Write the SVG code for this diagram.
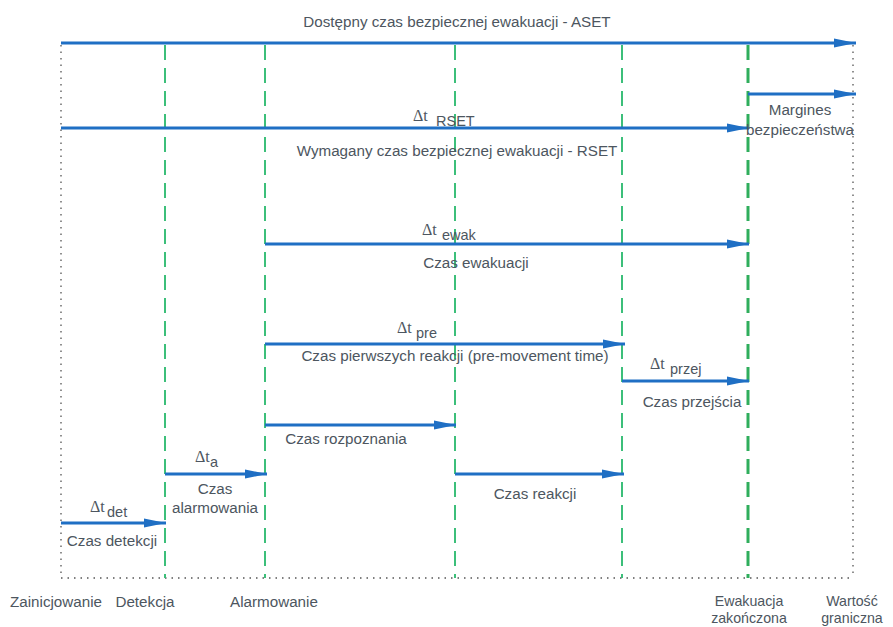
<svg xmlns="http://www.w3.org/2000/svg" width="893" height="627" viewBox="0 0 893 627">
<style>
.t{font-family:"Liberation Sans",Arial,sans-serif;font-size:15.2px;fill:#4d5660}
.b{font-family:"Liberation Sans",Arial,sans-serif;font-size:14.2px;fill:#4d5660}
.d{font-family:"Liberation Serif","Times New Roman",serif;font-size:16px;fill:#4d5660}
.s{font-family:"Liberation Sans",Arial,sans-serif;font-size:14.5px;fill:#4d5660}
.dot{stroke:#555;stroke-width:1.3;stroke-dasharray:1.5 5;fill:none}
.g{stroke:#3cbf7a;stroke-width:2;stroke-dasharray:15 8;fill:none}
.g2{stroke:#2fae5c;stroke-width:3;stroke-dasharray:15 8;fill:none}
.a{stroke:#1f6fc4;stroke-width:3;fill:none;marker-end:url(#ah)}
</style>
<defs>
<marker id="ah" markerUnits="userSpaceOnUse" markerWidth="24" markerHeight="12" refX="22" refY="6" orient="auto">
<path d="M0,1.5 L22,6 L0,10.5 Z" fill="#1f6fc4"/>
</marker>
</defs>
<rect width="893" height="627" fill="#fff"/>
<g id="frame">
<line class="dot" x1="61" y1="45" x2="61" y2="578"/>
<line class="dot" x1="853" y1="45" x2="853" y2="578"/>
<line class="dot" x1="61" y1="578" x2="853" y2="578"/>
</g>
<g id="milestones">
<line class="g" x1="165" y1="45" x2="165" y2="578"/>
<line class="g" x1="265" y1="45" x2="265" y2="578"/>
<line class="g" x1="455" y1="45" x2="455" y2="578"/>
<line class="g" x1="622" y1="45" x2="622" y2="578"/>
<line class="g2" x1="748" y1="45" x2="748" y2="578"/>
</g>
<g id="connectors">
<line class="a" x1="61" y1="43" x2="856" y2="43"/>
<line class="a" x1="748" y1="94" x2="856" y2="94"/>
<line class="a" x1="61" y1="128" x2="749" y2="128"/>
<line class="a" x1="265" y1="244" x2="749" y2="244"/>
<line class="a" x1="265" y1="344" x2="625" y2="344"/>
<line class="a" x1="622" y1="381" x2="749" y2="381"/>
<line class="a" x1="265" y1="425" x2="456" y2="425"/>
<line class="a" x1="455" y1="474" x2="624" y2="474"/>
<line class="a" x1="165" y1="474" x2="267" y2="474"/>
<line class="a" x1="61" y1="523" x2="166" y2="523"/>
</g>
<g id="aset"><text class="t" x="457" y="27" text-anchor="middle">Dostępny czas bezpiecznej ewakuacji - ASET</text></g>
<g id="margines">
<text class="t" x="800" y="115" text-anchor="middle">Margines</text>
<text class="t" x="800" y="135" text-anchor="middle">bezpieczeństwa</text>
</g>
<g id="rset">
<text class="d" x="413" y="121">Δt</text><text class="s" x="436" y="126">RSET</text>
<text class="t" x="457" y="156" text-anchor="middle">Wymagany czas bezpiecznej ewakuacji - RSET</text>
</g>
<g id="ewak">
<text class="d" x="422" y="235">Δt</text><text class="s" x="442" y="240">ewak</text>
<text class="t" x="476" y="268" text-anchor="middle">Czas ewakuacji</text>
</g>
<g id="pre">
<text class="d" x="397" y="333">Δt</text><text class="s" x="416" y="338">pre</text>
<text class="t" x="455" y="361" text-anchor="middle">Czas pierwszych reakcji (pre-movement time)</text>
</g>
<g id="przej">
<text class="d" x="650" y="369">Δt</text><text class="s" x="670" y="374">przej</text>
<text class="t" x="692" y="407" text-anchor="middle">Czas przejścia</text>
</g>
<g id="rozpoznania"><text class="t" x="346" y="444" text-anchor="middle">Czas rozpoznania</text></g>
<g id="reakcji"><text class="t" x="535" y="499" text-anchor="middle">Czas reakcji</text></g>
<g id="alarm">
<text class="d" x="195" y="462">Δt</text><text class="s" x="210" y="467">a</text>
<text class="t" x="215" y="494" text-anchor="middle">Czas</text>
<text class="t" x="215" y="513" text-anchor="middle">alarmowania</text>
</g>
<g id="det">
<text class="d" x="90" y="512">Δt</text><text class="s" x="107" y="517">det</text>
<text class="t" x="112" y="546" text-anchor="middle">Czas detekcji</text>
</g>
<g id="labels">
<text class="t" x="56" y="607" text-anchor="middle">Zainicjowanie</text>
<text class="t" x="145" y="607" text-anchor="middle">Detekcja</text>
<text class="t" x="274" y="607" text-anchor="middle">Alarmowanie</text>
<text class="b" x="749" y="606" text-anchor="middle">Ewakuacja</text>
<text class="b" x="749" y="623" text-anchor="middle">zakończona</text>
<text class="b" x="852" y="606" text-anchor="middle">Wartość</text>
<text class="b" x="852" y="623" text-anchor="middle">graniczna</text>
</g>
</svg>
